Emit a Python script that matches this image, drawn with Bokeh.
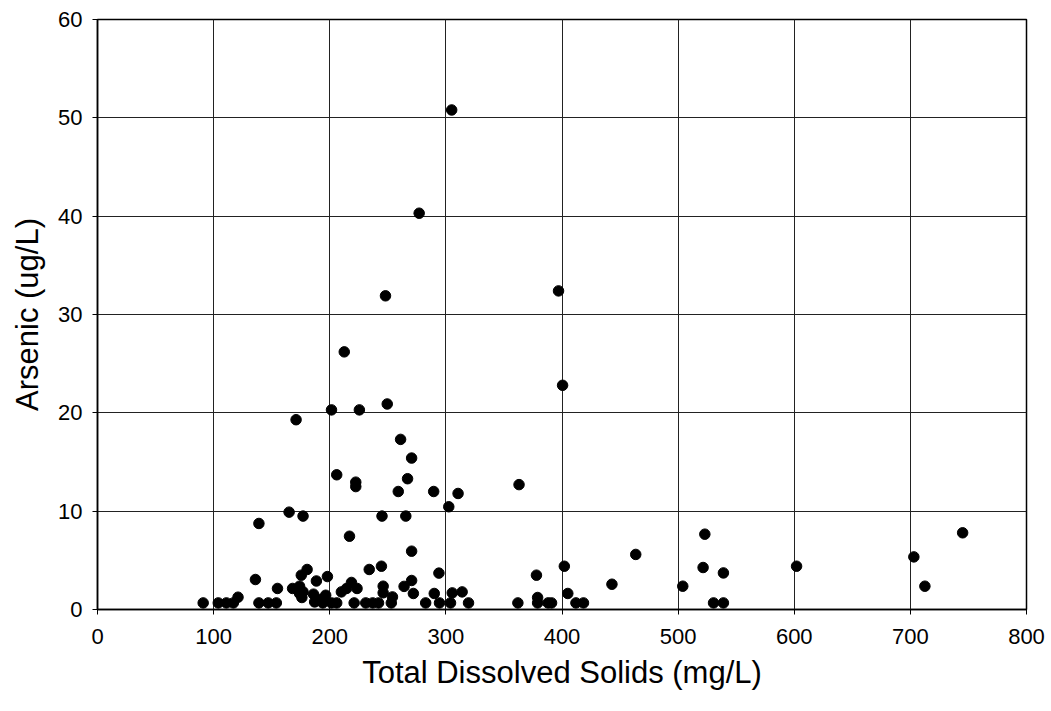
from bokeh.plotting import figure
from bokeh.embed import file_html
from bokeh.resources import INLINE
from bokeh.models import ColumnDataSource, FixedTicker, Range1d

# Total Dissolved Solids (mg/L)
tds = [91, 104, 111, 117, 121, 136, 139, 147, 154, 155,
       139, 165, 168, 171, 174, 175.5, 174, 176, 177, 180.5,
       177, 186, 187, 188.5, 191.5, 194, 196.5, 198, 201.5, 201.5,
       206, 206, 210, 212.5, 214.5, 217, 218.7, 221, 222.4, 222.4,
       223.5, 225.5, 231, 234, 237, 242, 244.5, 245, 246, 246,
       248, 249.5, 253, 254, 259, 261, 264, 265.5, 267, 270.5,
       270.5, 270.5, 272, 277, 282.6, 289.5, 290, 294, 294.5, 302.5,
       304, 305, 305.5, 310.5, 314, 319.5, 362, 363, 378, 379,
       379, 388, 391, 397, 400.5, 402, 405, 412, 418.5, 443,
       463.5, 504, 521.5, 523, 530.5, 539, 539, 602, 703, 712.5,
       745]
# Arsenic (ug/L)
arsenic = [0.67, 0.67, 0.67, 0.67, 1.25, 3.05, 0.67, 0.67, 0.67, 2.14,
           8.75, 9.9, 2.14, 19.3, 2.37, 3.49, 1.63, 1.22, 9.5, 4.07,
           1.8, 1.56, 0.77, 2.9, 1.02, 0.67, 1.45, 3.35, 0.67, 20.3,
           0.67, 13.7, 1.79, 26.2, 2.14, 7.45, 2.75, 0.67, 12.95, 12.5,
           2.14, 20.3, 0.67, 4.07, 0.67, 0.67, 4.4, 9.5, 2.37, 1.7,
           31.9, 20.9, 0.67, 1.28, 12.0, 17.3, 2.35, 9.5, 13.3, 15.4,
           5.93, 2.95, 1.63, 40.3, 0.67, 12.0, 1.63, 3.7, 0.67, 10.45,
           0.67, 50.8, 1.69, 11.8, 1.79, 0.67, 0.67, 12.7, 3.49, 1.22,
           0.67, 0.67, 0.67, 32.4, 22.8, 4.4, 1.63, 0.67, 0.67, 2.57,
           5.6, 2.37, 4.27, 7.66, 0.67, 3.72, 0.67, 4.4, 5.35, 2.37,
           7.8]

x_ticks = [0, 100, 200, 300, 400, 500, 600, 700, 800]
y_ticks = [0, 10, 20, 30, 40, 50, 60]

source = ColumnDataSource(data=dict(x=tds, y=arsenic))

FONT = "Liberation Sans"

p = figure(frame_width=929, frame_height=590,
           min_border_left=97, min_border_top=19, min_border_right=22,
           min_border_bottom=95,
           x_range=Range1d(0, 800), y_range=Range1d(0, 60),
           output_backend="svg", toolbar_location=None)

p.scatter("x", "y", source=source, size=10.5, fill_color="black",
          line_color="black", marker="circle")

p.xaxis.ticker = FixedTicker(ticks=x_ticks)
p.yaxis.ticker = FixedTicker(ticks=y_ticks)
p.xaxis.axis_label = "Total Dissolved Solids (mg/L)"
p.yaxis.axis_label = "Arsenic (ug/L)"

for ax in (p.xaxis[0], p.yaxis[0]):
    ax.axis_line_color = "black"
    ax.axis_line_width = 1.5
    ax.major_tick_line_color = "black"
    ax.major_tick_line_width = 1
    ax.major_tick_out = 5
    ax.major_tick_in = 0
    ax.minor_tick_line_color = None
    ax.major_label_text_font = FONT
    ax.major_label_text_font_size = "22px"
    ax.major_label_text_color = "black"
    ax.axis_label_text_font = FONT
    ax.axis_label_text_font_size = "31px"
    ax.axis_label_text_font_style = "normal"
    ax.axis_label_text_color = "black"

p.xaxis.major_label_standoff = 14
p.xaxis.axis_label_standoff = 8
p.yaxis.major_label_standoff = 10
p.yaxis.axis_label_standoff = 10

p.xgrid.grid_line_color = "#222222"
p.ygrid.grid_line_color = "#222222"
p.xgrid.grid_line_width = 1
p.ygrid.grid_line_width = 1

p.outline_line_color = "black"
p.outline_line_width = 1.5
p.background_fill_color = "white"
p.border_fill_color = "white"

open("out.html", "w").write(file_html(p, INLINE))
